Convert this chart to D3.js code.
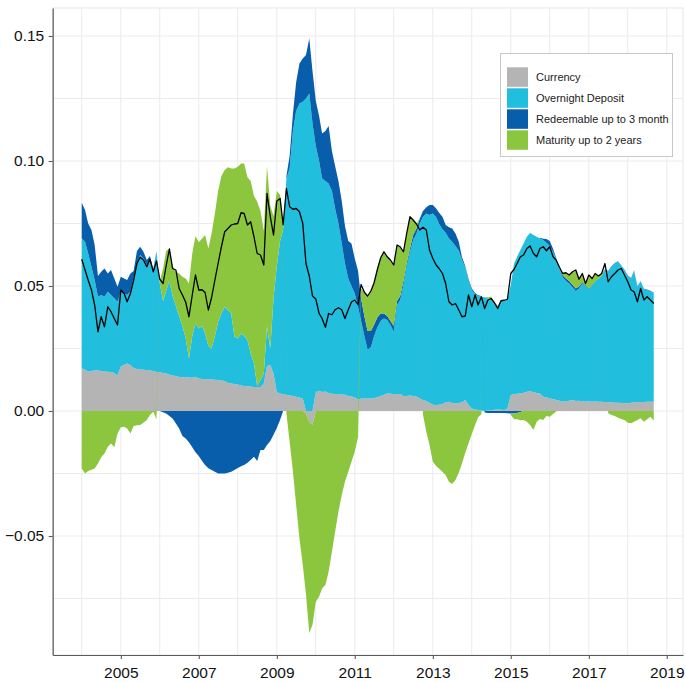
<!DOCTYPE html>
<html>
<head>
<meta charset="utf-8">
<script src="https://cdn.jsdelivr.net/npm/d3@7"></script>
<style>
  body { margin: 0; background: #fff; }
  svg { display: block; font-family: "Liberation Sans", Arial, sans-serif; }
</style>
</head>
<body>
<svg id="chart" width="686" height="682"></svg>
<script>
// monthly contributions, Jan 2004 .. Sep 2018
const firstYear = 2004;

const seriesNames = ["Currency", "Overnight Deposit", "Redeemable up to 3 month", "Maturity up to 2 years"];
const seriesColors = ["#b4b4b4", "#22bede", "#085eab", "#8cc63f"];

const currency = [
  0.0171, 0.0165, 0.0157, 0.016, 0.0162, 0.0162, 0.016, 0.0158, 0.0157, 0.0156, 0.0152, 0.0142,
  0.0178, 0.0185, 0.019, 0.0184, 0.0172, 0.0168, 0.0166, 0.0165, 0.0164, 0.0162, 0.016, 0.0156,
  0.0155, 0.0152, 0.015, 0.0146, 0.0142, 0.014, 0.0136, 0.0134, 0.0136, 0.0134, 0.0133, 0.0137,
  0.013, 0.0128, 0.0128, 0.0127, 0.0127, 0.0125, 0.0124, 0.0122, 0.012, 0.0112, 0.011, 0.0108,
  0.0106, 0.0102, 0.01, 0.0099, 0.0098, 0.0096, 0.0096, 0.0096, 0.011, 0.018, 0.0184, 0.015,
  0.0075, 0.007, 0.0066, 0.0065, 0.0062, 0.006, 0.0057, 0.0054, 0.005, -0.001, -0.0045, -0.0055,
  0.0075, 0.0081, 0.0076, 0.0078, 0.0072, 0.0069, 0.0068, 0.0067, 0.0066, 0.0065, 0.006, 0.0058,
  0.0055, 0.0045, 0.005, 0.005, 0.005, 0.005, 0.0052, 0.0055, 0.006, 0.0065, 0.007, 0.007,
  0.0065, 0.0068, 0.0068, 0.006, 0.006, 0.0062, 0.006, 0.0058, 0.005, 0.0044, 0.004, 0.0033,
  0.0025, 0.0024, 0.0025, 0.0028, 0.0035, 0.0037, 0.0032, 0.003, 0.0032, 0.0035, 0.0044, 0.0025,
  0.001, 0.0006, 0.0004, 0.0002, 0, 0.0001, 0.0003, 0.0005, 0.0006, 0.0005, 0.0004, 0.001,
  0.0064, 0.0067, 0.0069, 0.007, 0.0073, 0.0077, 0.008, 0.0075, 0.0072, 0.007, 0.0057, 0.0055,
  0.005, 0.0048, 0.0044, 0.0041, 0.0037, 0.0039, 0.0041, 0.0044, 0.004, 0.0041, 0.0039, 0.0037,
  0.0039, 0.0037, 0.0039, 0.0037, 0.0037, 0.0036, 0.0035, 0.0035, 0.0033, 0.0033, 0.0032, 0.0031,
  0.0031, 0.0033, 0.0036, 0.0035, 0.0036, 0.0036, 0.0037, 0.0037, 0.0037
];

const overnight = [
  0.052, 0.0512, 0.0474, 0.0417, 0.0362, 0.0295, 0.0304, 0.0299, 0.032, 0.0308, 0.0299, 0.0295,
  0.0299, 0.0285, 0.0274, 0.0293, 0.0365, 0.0422, 0.0458, 0.0445, 0.042, 0.0435, 0.0397, 0.0481,
  0.0355, 0.0288, 0.033, 0.0374, 0.0318, 0.028, 0.0244, 0.0206, 0.0154, 0.0076, 0.0167, 0.0213,
  0.02, 0.0212, 0.0182, 0.0133, 0.0123, 0.0175, 0.0233, 0.0268, 0.0297, 0.0292, 0.028, 0.0189,
  0.0184, 0.0208, 0.02, 0.0185, 0.0132, 0.0094, 0.0003, 0.0028, 0.004, 0.0157, 0.0066, 0.03,
  0.0505, 0.061, 0.066, 0.0865, 0.0908, 0.106, 0.1143, 0.1176, 0.1187, 0.125, 0.127, 0.115,
  0.0985, 0.0919, 0.0854, 0.0842, 0.0838, 0.0811, 0.0742, 0.0683, 0.0604, 0.0525, 0.047, 0.0442,
  0.0415, 0.037, 0.031, 0.025, 0.0195, 0.0205, 0.0248, 0.028, 0.03, 0.0305, 0.0294, 0.0274,
  0.0252, 0.0356, 0.0376, 0.0444, 0.0517, 0.0575, 0.0624, 0.0652, 0.07, 0.0733, 0.075, 0.0751,
  0.0765, 0.0751, 0.0723, 0.0699, 0.0678, 0.0653, 0.0645, 0.063, 0.0609, 0.0569, 0.0531, 0.0499,
  0.0474, 0.0462, 0.0456, 0.0455, 0.0455, 0.0449, 0.0444, 0.0423, 0.0414, 0.0435, 0.0437, 0.0437,
  0.044, 0.0523, 0.0548, 0.0574, 0.0597, 0.062, 0.0633, 0.0629, 0.0625, 0.062, 0.0627, 0.0618,
  0.061, 0.0589, 0.0563, 0.0526, 0.0498, 0.0481, 0.0469, 0.0451, 0.044, 0.0449, 0.0471, 0.0463,
  0.0448, 0.0467, 0.0478, 0.049, 0.0503, 0.0528, 0.0522, 0.0542, 0.0557, 0.0564, 0.0548, 0.0533,
  0.0509, 0.0497, 0.0525, 0.0462, 0.0481, 0.0451, 0.0447, 0.0442, 0.0434
];

const redeemable = [
  0.0142, 0.0127, 0.0119, 0.0147, 0.014, 0.0083, 0.0093, 0.0113, 0.0073, 0.01, 0.0079, 0.006,
  0.006, 0.006, 0.006, 0.0073, 0.0023, 0.005, 0.0033, 0.0027, 0.002, 0.0023, 0.001, 0.0003,
  0, -0.0005, -0.001, -0.002, -0.003, -0.005, -0.007, -0.01, -0.011, -0.0125, -0.0145, -0.0165,
  -0.018, -0.02, -0.0216, -0.0229, -0.0236, -0.0243, -0.025, -0.025, -0.025, -0.0247, -0.0243, -0.0236,
  -0.0228, -0.0221, -0.0216, -0.0207, -0.0196, -0.0183, -0.02, -0.0156, -0.0156, -0.0136, -0.012, -0.0095,
  -0.0068, -0.0035, 0, 0.001, 0.005, 0.007, 0.0115, 0.016, 0.0173, 0.0174, 0.022, 0.021,
  0.018, 0.018, 0.018, 0.02, 0.023, 0.016, 0.017, 0.017, 0.017, 0.015, 0.015, 0.017,
  0.014, 0.0145, 0.009, 0.008, 0.0075, 0.0065, 0.0045, 0.004, 0.003, 0.002, 0.0016, 0.0016,
  0.0023, 0.0016, 0.0016, 0.0016, 0.0013, 0.0013, 0.002, 0.002, 0.002, 0.0023, 0.0025, 0.004,
  0.0034, 0.0035, 0.0045, 0.005, 0.0031, 0.0045, 0.0053, 0.005, 0.0036, 0.0011, 0.0005, 0.0005,
  0.0006, 0.0004, 0.0003, 0.0003, -0.0006, -0.0008, -0.0008, -0.0008, -0.0008, -0.0008, -0.0008, -0.0009,
  -0.001, -0.001, -0.0008, -0.0004, 0, 0, 0, 0, 0, 0.0003, 0.0005, 0.0015,
  0.002, 0.0012, 0.0005, 0.0003, 0.0008, 0.001, 0.001, 0.001, 0.001, 0.0008, 0.0005, 0.0003,
  0.0003, 0.0002, 0.0002, 0.0002, 0.0002, 0.0003, 0.0003, 0.0002, 0.0002, 0.0002, 0.0002, 0.0002,
  0.0002, 0.0002, 0.0002, 0.0002, 0.0002, 0.0002, 0.0002, 0.0002, 0.0002
];

const maturity = [
  -0.023, -0.025, -0.024, -0.0235, -0.023, -0.021, -0.0185, -0.017, -0.0143, -0.013, -0.0145, -0.009,
  -0.0065, -0.0063, -0.007, -0.009, -0.006, -0.0057, -0.0056, -0.0047, -0.0036, -0.0016, -0.0003, -0.0033,
  0.001, 0.013, 0.016, 0.013, 0.012, 0.0137, 0.017, 0.0197, 0.024, 0.03, 0.033, 0.035,
  0.0345, 0.035, 0.0394, 0.039, 0.046, 0.049, 0.0523, 0.055, 0.0547, 0.0571, 0.058, 0.0673,
  0.0687, 0.068, 0.069, 0.0651, 0.069, 0.067, 0.0738, 0.0676, 0.057, 0.0643, 0.057, 0.033,
  0.03, 0.0184, 0.002, -0.001, -0.0123, -0.0243, -0.0376, -0.051, -0.0616, -0.0723, -0.0843, -0.08,
  -0.0763, -0.0743, -0.071, -0.0696, -0.0643, -0.0563, -0.0483, -0.0403, -0.0336, -0.0283, -0.0243, -0.0203,
  -0.0163, -0.0103, 0.004, 0.0095, 0.014, 0.016, 0.0168, 0.0192, 0.0223, 0.0247, 0.024, 0.0244,
  0.0244, 0.0224, 0.0197, 0.0117, 0.012, 0.0127, 0.006, 0.0018, 0.0003, -0.0015, -0.0083, -0.0136,
  -0.0203, -0.022, -0.0231, -0.0243, -0.0256, -0.0283, -0.0292, -0.0276, -0.0247, -0.021, -0.0167, -0.013,
  -0.0092, -0.0056, -0.0025, -0.0013, 0.0002, 0.0005, 0.001, 0.0008, 0.0002, 0.0001, 0.0001, 0.0001,
  -0.0005, -0.0023, -0.0025, -0.0033, -0.0036, -0.0043, -0.0056, -0.0076, -0.0043, -0.0032, -0.0036, -0.002,
  -0.0023, -0.0012, -0.0003, 0.0002, 0.0007, 0.002, 0.0024, 0.005, 0.007, 0.003, 0.0035, 0.0007,
  0.005, 0.0024, 0.003, 0.001, 0.0008, 0.0002, -0.0009, -0.0016, -0.002, -0.0027, -0.0032, -0.0036,
  -0.0047, -0.0049, -0.0043, -0.0036, -0.0029, -0.0043, -0.0033, -0.0023, -0.0039
];

// black line: total growth
const total = [
  0.0607, 0.0564, 0.0524, 0.0484, 0.0424, 0.0317, 0.0377, 0.0337, 0.0417, 0.0397, 0.037, 0.0344,
  0.0484, 0.047, 0.0437, 0.047, 0.0524, 0.059, 0.0615, 0.0604, 0.0577, 0.0607, 0.0557, 0.06,
  0.0527, 0.051, 0.058, 0.0648, 0.057, 0.0564, 0.049, 0.0464, 0.0435, 0.0377, 0.0464, 0.0544,
  0.0484, 0.0485, 0.0474, 0.0404, 0.0454, 0.0524, 0.059, 0.0657, 0.0717, 0.073, 0.0744, 0.0748,
  0.075, 0.0793, 0.079, 0.0744, 0.0757, 0.0697, 0.063, 0.0624, 0.0584, 0.087, 0.0777, 0.0704,
  0.084, 0.085, 0.0745, 0.089, 0.0817, 0.0807, 0.081, 0.0797, 0.075, 0.059, 0.054, 0.046,
  0.0448, 0.039, 0.037, 0.0335, 0.039, 0.0385, 0.0405, 0.0413, 0.0405, 0.037, 0.0405, 0.0436,
  0.0444, 0.0425, 0.0506, 0.0475, 0.046, 0.048, 0.0513, 0.0567, 0.0613, 0.0637, 0.0617, 0.0604,
  0.0584, 0.0664, 0.0657, 0.0637, 0.071, 0.0777, 0.0764, 0.0748, 0.0724, 0.0735, 0.0724, 0.0644,
  0.061, 0.0584, 0.057, 0.055, 0.051, 0.0437, 0.0424, 0.043, 0.0404, 0.0377, 0.038, 0.0464,
  0.0417, 0.0464, 0.0424, 0.0457, 0.041, 0.0444, 0.045, 0.0433, 0.041, 0.0441, 0.0443, 0.0447,
  0.055, 0.0567, 0.059, 0.0617, 0.0624, 0.065, 0.066, 0.063, 0.0617, 0.065, 0.0657, 0.0641,
  0.0657, 0.0617, 0.0604, 0.0575, 0.055, 0.0553, 0.0544, 0.0557, 0.0564, 0.0527, 0.055, 0.051,
  0.0544, 0.053, 0.055, 0.054, 0.055, 0.059, 0.0517, 0.0537, 0.055, 0.0564, 0.057, 0.0544,
  0.0517, 0.0484, 0.0477, 0.0437, 0.049, 0.0444, 0.0457, 0.0444, 0.043
];

const yTicks = [-0.05, 0, 0.05, 0.10, 0.15];
const yGrid = [-0.075, -0.05, -0.025, 0, 0.025, 0.05, 0.075, 0.10, 0.125, 0.15];
const xTickYears = [2005, 2007, 2009, 2011, 2013, 2015, 2017, 2019];
const xGridYears = d3.range(2004, 2020);

const dates = currency.map((_, i) => new Date(firstYear, i, 1));
const table = dates.map((d, i) => ({
  date: d,
  [seriesNames[0]]: currency[i],
  [seriesNames[1]]: overnight[i],
  [seriesNames[2]]: redeemable[i],
  [seriesNames[3]]: maturity[i]
}));

const svg = d3.select("#chart");
const panel = { left: 52.7, right: 683, top: 8, bottom: 655 };

const x = d3.scaleTime()
  .domain([new Date(2003, 3, 4), new Date(2019, 5, 2)])
  .range([panel.left, panel.right]);
const y = d3.scaleLinear()
  .domain([-0.0976, 0.1612])
  .range([panel.bottom, panel.top]);

// panel + grid
svg.append("rect")
  .attr("x", panel.left).attr("y", panel.top)
  .attr("width", panel.right - panel.left).attr("height", panel.bottom - panel.top)
  .attr("fill", "#fff").attr("stroke", "#e6e6e6").attr("stroke-width", 1);

const grid = svg.append("g").attr("stroke", "#ebebeb").attr("stroke-width", 1);
grid.selectAll(".gy").data(yGrid).enter().append("line")
  .attr("x1", panel.left).attr("x2", panel.right)
  .attr("y1", d => y(d)).attr("y2", d => y(d));
grid.selectAll(".gx").data(xGridYears).enter().append("line")
  .attr("y1", panel.top).attr("y2", panel.bottom)
  .attr("x1", d => x(new Date(d, 0, 1))).attr("x2", d => x(new Date(d, 0, 1)));

// diverging stack, same key order as the legend
const stack = d3.stack()
  .keys(seriesNames)
  .offset(d3.stackOffsetDiverging);
const layers = stack(table);

const area = d3.area()
  .x(d => x(d.data.date))
  .y0(d => y(d[0]))
  .y1(d => y(d[1]));

svg.append("g").selectAll("path")
  .data(layers)
  .enter().append("path")
  .attr("d", area)
  .attr("fill", (d, i) => seriesColors[i]);

const line = d3.line()
  .x((d, i) => x(dates[i]))
  .y(d => y(d));

svg.append("path")
  .datum(total)
  .attr("d", line)
  .attr("fill", "none")
  .attr("stroke", "#000")
  .attr("stroke-width", 1.3)
  .attr("stroke-linejoin", "round");

// axes
const yAxis = d3.axisLeft(y)
  .tickValues(yTicks)
  .tickSize(4)
  .tickSizeOuter(0)
  .tickPadding(4.5)
  .tickFormat(d3.format(".2f"));

const xAxis = d3.axisBottom(x)
  .tickValues(xTickYears.map(yr => new Date(yr, 0, 1)))
  .tickSize(4)
  .tickSizeOuter(0)
  .tickPadding(7.5)
  .tickFormat(d3.timeFormat("%Y"));

const gy = svg.append("g").attr("transform", `translate(${panel.left},0)`).call(yAxis);
const gx = svg.append("g").attr("transform", `translate(0,${panel.bottom})`).call(xAxis);

[gx, gy].forEach(g => {
  g.select(".domain").attr("stroke", "#5a5a5a").attr("stroke-width", 1.2);
  g.selectAll(".tick line").attr("stroke", "#5a5a5a").attr("stroke-width", 1.1);
  g.selectAll(".tick text")
    .attr("fill", "#111")
    .style("font-size", "15.5px")
    .style("font-family", '"Liberation Sans", Arial, sans-serif');
});

// legend
const legend = svg.append("g");
legend.append("rect")
  .attr("x", 500.5).attr("y", 53.5)
  .attr("width", 172).attr("height", 103)
  .attr("fill", "#fff").attr("stroke", "#c8c8c8").attr("stroke-width", 1);

const item = legend.selectAll(".item")
  .data(seriesNames)
  .enter().append("g")
  .attr("transform", (d, i) => `translate(507,${67.3 + i * 21})`);

item.append("rect")
  .attr("width", 21).attr("height", 19.5)
  .attr("fill", (d, i) => seriesColors[i]);

item.append("text")
  .attr("x", 29)
  .attr("y", 10)
  .attr("dy", "0.35em")
  .attr("fill", "#222")
  .style("font-size", "11px")
  .text(d => d);
</script>
</body>
</html>
